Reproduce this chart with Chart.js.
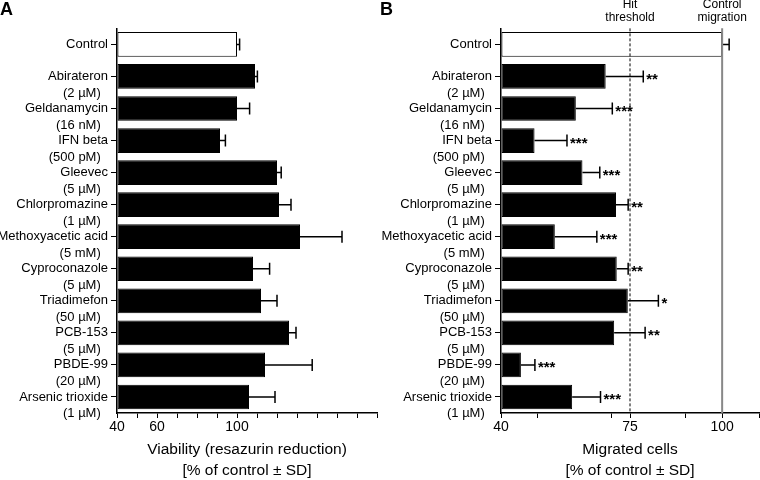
<!DOCTYPE html>
<html>
<head>
<meta charset="utf-8">
<script src="https://cdn.jsdelivr.net/npm/chart.js@4.4.0/dist/chart.umd.min.js"></script>
<style>
body { margin: 0; background: #fff; }
#wrap { position: relative; width: 760px; height: 480px; overflow: hidden; }
canvas { position: absolute; top: 0; }
#chartA { left: 0; }
#chartB { left: 380px; }
.panel { position: absolute; top: 0; font: bold 18px "Liberation Sans", Arial, sans-serif; line-height: 1; }
</style>
</head>
<body>
<div id="wrap">
  <canvas id="chartA" width="380" height="480"></canvas>
  <canvas id="chartB" width="380" height="480"></canvas>
  <div class="panel" style="left:0">A</div>
  <div class="panel" style="left:380px">B</div>
</div>
<script>
"use strict";

// Compounds and concentrations
const compounds = ["Control", "Abirateron", "Geldanamycin", "IFN beta", "Gleevec", "Chlorpromazine",
    "Methoxyacetic acid", "Cyproconazole", "Triadimefon", "PCB-153", "PBDE-99", "Arsenic trioxide"];
const concentrations = ["", "(2 µM)", "(16 nM)", "(500 pM)", "(5 µM)", "(1 µM)",
    "(5 mM)", "(5 µM)", "(50 µM)", "(5 µM)", "(20 µM)", "(1 µM)"];

// Panel A: viability
const viability = [100, 109, 100, 91.5, 120, 121, 131.5, 108, 112, 126, 114, 106];
const viabilitySD = [1.3, 1.2, 6.3, 2.7, 2.1, 6, 21, 8.3, 8, 3.5, 23.6, 13];

// Panel B: migration
const migration = [100, 68.4, 60.3, 49.1, 62.1, 71.2, 54.6, 71.4, 74.4, 70.7, 45.4, 59.3];
const migrationSD = [1.9, 10.2, 9.9, 8.8, 4.7, 3.3, 11.4, 3.1, 8.3, 8.4, 3.8, 7.7];
const stars = ["", "**", "***", "***", "***", "**", "***", "**", "*", "**", "***", "***"];

// Ticks
const ticksA = [40, 50, 60, 70, 80, 90, 100, 110, 120, 130, 140, 150, 160, 170];
const labelsA = [40, 60, 100];
const ticksB = [40, 50, 70, 75, 90, 100, 110];
const labelsB = [40, 75, 100];

const hitThreshold = 75;
const controlLevel = 100;

Chart.defaults.font.family = '"Liberation Sans", Arial, sans-serif';
Chart.defaults.color = "#000";

// name on the tick, concentration on the line below (nbsp pushes it a little left)
const labels = compounds.map((name, i) =>
    concentrations[i] ? ["", name, concentrations[i] + "\u00a0\u00a0"] : name);
const fills = compounds.map((c, i) => i === 0 ? "#fff" : "#000");

const errorBars = {
    id: "errorBars",
    afterDatasetsDraw(chart, args, opts) {
        const ctx = chart.ctx;
        const xs = chart.scales.x;
        const meta = chart.getDatasetMeta(0);
        ctx.save();
        ctx.strokeStyle = "#000";
        ctx.lineWidth = 1.5;
        meta.data.forEach((bar, i) => {
            const v = chart.data.datasets[0].data[i];
            const x1 = xs.getPixelForValue(v + opts.sd[i]);
            ctx.beginPath();
            ctx.moveTo(bar.x, bar.y);
            ctx.lineTo(x1, bar.y);
            ctx.moveTo(x1, bar.y - 6);
            ctx.lineTo(x1, bar.y + 6);
            ctx.stroke();
            if (opts.stars && opts.stars[i]) {
                ctx.fillStyle = "#000";
                ctx.font = "bold 15px 'Liberation Sans', Arial, sans-serif";
                ctx.textAlign = "left";
                ctx.textBaseline = "middle";
                ctx.fillText(opts.stars[i], x1 + 3, bar.y + 3);
            }
        });
        ctx.restore();
    }
};

const refLines = {
    id: "refLines",
    afterDatasetsDraw(chart, args, opts) {
        if (!opts.lines) return;
        const ctx = chart.ctx;
        const area = chart.chartArea;
        ctx.save();
        opts.lines.forEach(l => {
            const x = chart.scales.x.getPixelForValue(l.value);
            ctx.beginPath();
            ctx.strokeStyle = l.color;
            ctx.lineWidth = l.width;
            ctx.setLineDash(l.dash);
            ctx.moveTo(x, area.top);
            ctx.lineTo(x, area.bottom);
            ctx.stroke();
            ctx.setLineDash([]);
            ctx.fillStyle = "#000";
            ctx.font = "12px 'Liberation Sans', Arial, sans-serif";
            ctx.textAlign = "center";
            ctx.textBaseline = "middle";
            l.label.forEach((t, j) => ctx.fillText(t, x, 5 + j * 13));
        });
        ctx.restore();
    }
};

function makeConfig(values, sd, starList, min, max, tickVals, tickLabels, yWidth, title, lines, padRight) {
    return {
        type: "bar",
        data: {
            labels: labels,
            datasets: [{
                data: values,
                base: min,
                backgroundColor: fills,
                borderColor: "#000",
                borderWidth: 1,
                borderSkipped: false,
                categoryPercentage: 1,
                barPercentage: 0.77
            }]
        },
        options: {
            indexAxis: "y",
            responsive: false,
            animation: false,
            layout: { padding: { top: 23, right: padRight, bottom: 0, left: 0 } },
            plugins: {
                legend: { display: false },
                tooltip: { enabled: false },
                errorBars: { sd: sd, stars: starList },
                refLines: { lines: lines }
            },
            scales: {
                x: {
                    min: min,
                    max: max,
                    afterBuildTicks: s => { s.ticks = tickVals.map(v => ({ value: v })); },
                    afterFit: s => { s.height = 67; },
                    ticks: {
                        autoSkip: false,
                        maxRotation: 0,
                        padding: 1,
                        font: { size: 14 },
                        callback: v => tickLabels.includes(v) ? String(v) : ""
                    },
                    grid: { drawOnChartArea: false, color: "#000", tickLength: 5, lineWidth: 1 },
                    border: { color: "#000", width: 1.5 },
                    title: {
                        display: true,
                        text: title,
                        font: { size: 15.5, lineHeight: 1.4 },
                        padding: { top: 0, bottom: -2 }
                    }
                },
                y: {
                    afterFit: s => { s.width = yWidth; },
                    ticks: { autoSkip: false, padding: 3, font: { size: 13, lineHeight: 1.3 } },
                    grid: { drawOnChartArea: false, offset: false, color: "#000", tickLength: 6, lineWidth: 1 },
                    border: { color: "#000", width: 1.5 }
                }
            }
        },
        plugins: [errorBars, refLines]
    };
}

const ctxA = document.getElementById("chartA").getContext("2d");
const ctxB = document.getElementById("chartB").getContext("2d");

new Chart(ctxA, makeConfig(viability, viabilitySD, null, 40, 170, ticksA, labelsA, 117,
    ["Viability (resazurin reduction)", "[% of control ± SD]"], null, 3));

new Chart(ctxB, makeConfig(migration, migrationSD, stars, 40, 110, ticksB, labelsB, 121,
    ["Migrated cells", "[% of control ± SD]"],
    [
        { value: hitThreshold, color: "#000", width: 1, dash: [3, 2], label: ["Hit", "threshold"] },
        { value: controlLevel, color: "#888", width: 2, dash: [], label: ["Control", "migration"] }
    ], 1));
</script>
</body>
</html>
